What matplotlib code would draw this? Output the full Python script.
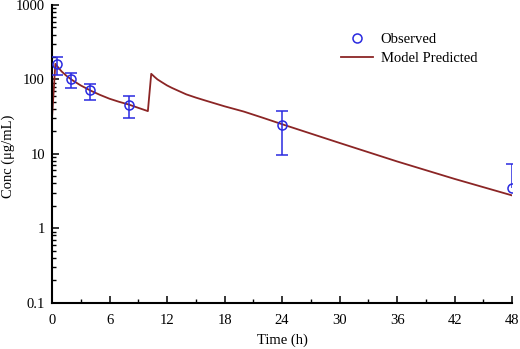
import numpy as np
import matplotlib
matplotlib.use('Agg')
import matplotlib.pyplot as plt
from matplotlib.ticker import FixedLocator, FuncFormatter, LogLocator, NullFormatter

plt.rcParams['font.family'] = ['Liberation Serif', 'DejaVu Serif']

# observed concentrations (mean, upper and lower error ends)
obs_t = np.array([0.5, 2, 4, 8, 24, 48])
obs_c = np.array([159, 100, 71, 46, 24.5, 3.5])
obs_hi = np.array([200, 121, 86, 60, 38, 7.4])
obs_lo = np.array([113, 77, 53, 30.6, 9.5, np.nan])

# model predicted curve
mod_t = np.array([0, 0.35, 0.7, 1, 1.5, 2, 2.5, 3, 4, 5, 6, 7, 8, 9, 10, 10.35, 10.7,
                  11, 11.5, 12, 12.5, 13, 14, 15, 16, 18, 20, 22, 24, 30, 36, 42, 48])
mod_c = np.array([30, 162, 142, 128, 112, 100, 91, 83, 71, 62, 55, 50, 46, 41.5, 37.5,
                  119, 108, 100, 91, 83, 77, 72, 63, 57, 52, 43.5, 37, 30.5, 25, 14,
                  7.9, 4.6, 2.76])

blue = '#2a2ae0'
red = '#8b2525'

fig = plt.figure(figsize=(5.2, 3.49), dpi=100)
ax = fig.add_axes([0.1, 0.1327, 0.885, 0.853])

line, = ax.plot(mod_t, mod_c, color=red, lw=1.3, zorder=2)

lo = np.where(np.isnan(obs_lo), obs_c, obs_lo)
ax.vlines(obs_t, lo, obs_hi, color=blue, lw=1.1, zorder=3)
ax.plot(obs_t, obs_hi, ls='none', marker='_', ms=8, mew=1.1, color=blue, zorder=3)
ax.plot(obs_t, obs_lo, ls='none', marker='_', ms=8, mew=1.1, color=blue, zorder=3)
pts, = ax.plot(obs_t, obs_c, ls='none', marker='o', ms=6.5, mfc='none', mec=blue,
               mew=1.1, zorder=4)

ax.set_yscale('log')
ax.set_ylim(0.1, 1000)
ax.set_xlim(0, 48)

ax.xaxis.set_major_locator(FixedLocator(np.arange(0, 49, 6)))
ax.xaxis.set_minor_locator(FixedLocator(np.arange(3, 48, 6)))
ax.yaxis.set_major_locator(FixedLocator([0.1, 1, 10, 100, 1000]))
ax.yaxis.set_minor_locator(LogLocator(base=10, subs=np.arange(2, 10)))
ax.yaxis.set_minor_formatter(NullFormatter())
ax.yaxis.set_major_formatter(FuncFormatter(lambda v, p: '%g' % v))

ax.tick_params(which='major', direction='in', length=5, width=1.1, labelsize=10.5,
               colors='black')
ax.tick_params(which='minor', direction='in', length=3, width=1)
ax.tick_params(axis='y', which='both', right=False, pad=5)
ax.tick_params(axis='x', which='both', top=False, pad=8)

for s in ['top', 'right']:
    ax.spines[s].set_visible(False)
for s in ['left', 'bottom']:
    ax.spines[s].set_linewidth(1.5)

ax.set_xlabel('Time (h)', fontsize=10.5)
ax.set_ylabel('Conc (μg/mL)', fontsize=10.5)
ax.xaxis.set_label_coords(0.5, -0.102)
ax.yaxis.set_label_coords(-0.081, 0.493)

ax.legend([pts, line], ['Observed', 'Model Predicted'], frameon=False, fontsize=10.5,
          loc='upper left', bbox_to_anchor=(0.6, 0.95), handlelength=2.2,
          handletextpad=0.5, labelspacing=0.4)

fig.savefig('out.png', dpi=100)
